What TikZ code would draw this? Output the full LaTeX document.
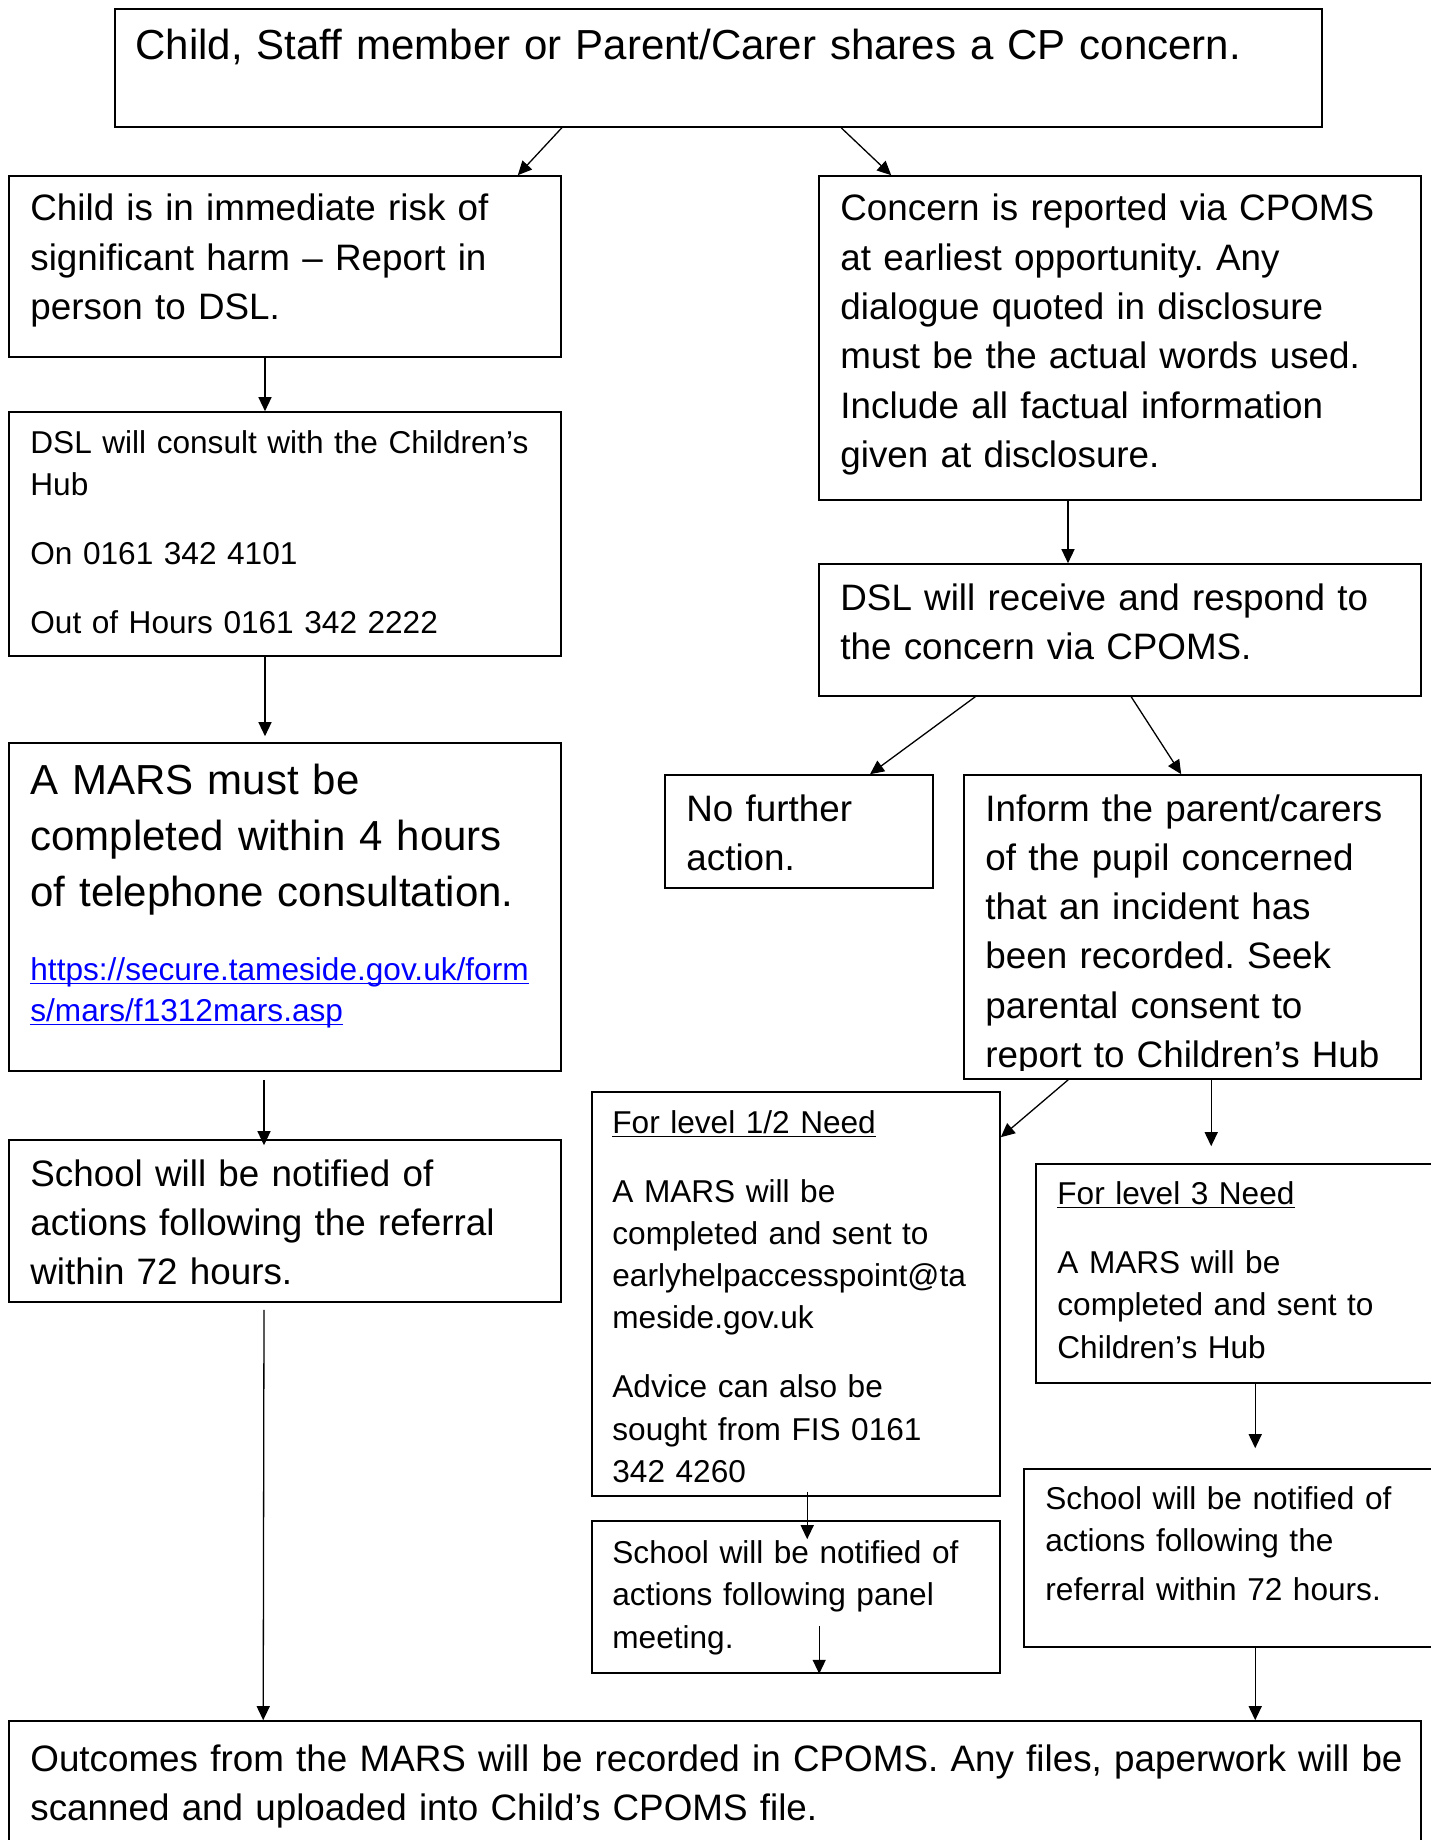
\documentclass[tikz,border=0pt]{standalone}
\usepackage{fontspec}
\setmainfont{Liberation Sans}
\usetikzlibrary{arrows.meta,calc}
\frenchspacing

\tikzset{
	box/.style={rectangle, draw, line width=0.8pt, inner sep=0pt},
	arr/.style={-{Triangle[length=7pt,width=6.5pt]}, line width=0.65pt},
	txt/.style={anchor=base west, align=left, inner sep=0pt, text width=700pt},
	bodytext/.style={txt, font=\fontsize{18.4pt}{24.65pt}\selectfont},
	smalltext/.style={txt, font=\fontsize{15.8pt}{21.15pt}\selectfont},
	bigtext/.style={txt, font=\fontsize{21pt}{28pt}\selectfont},
}
\newcommand{\linkline}[1]{\underline{\smash{#1}}}

\begin{document}
\begin{tikzpicture}[x=0.5pt, y=-0.5pt]
		
		\useasboundingbox (0,0) rectangle (1430,1840);
		
		%Boxes
		\node (top) at (718.5,68) [box, minimum width=603.5pt, minimum height=59pt]{};
		\node (boxA) at (285,266.5) [box, minimum width=276pt, minimum height=90.5pt]{};
		\node (boxB) at (1120,338) [box, minimum width=301pt, minimum height=162pt]{};
		\node (boxC) at (285,534) [box, minimum width=276pt, minimum height=122pt]{};
		\node (boxD) at (1120,630) [box, minimum width=301pt, minimum height=66pt]{};
		\node (boxE) at (285,907) [box, minimum width=276pt, minimum height=164pt]{};
		\node (boxF) at (799,831.5) [box, minimum width=134pt, minimum height=56.5pt]{};
		\node (boxG) at (1192.5,927) [box, minimum width=228.5pt, minimum height=152pt]{};
		\node (boxH) at (285,1221) [box, minimum width=276pt, minimum height=81pt]{};
		\node (boxI) at (796,1294) [box, minimum width=204pt, minimum height=202pt]{};
		\node (boxJ) at (1238,1273.5) [box, minimum width=202pt, minimum height=109.5pt]{};
		\node (boxK) at (796,1597) [box, minimum width=204pt, minimum height=76pt]{};
		\node (boxL) at (1232,1558) [box, minimum width=208pt, minimum height=89pt]{};
		\node (boxM) at (715,1785.5) [box, minimum width=706pt, minimum height=64.5pt]{};
		
		%Texts
		\node (txtTop) at (135,60) [bigtext]{Child, Staff member or Parent/Carer shares a CP concern.};
		\node (txtA) at (30,221) [bodytext]{Child is in immediate risk of\\ significant harm – Report in\\ person to DSL.};
		\node (txtB) at (840,221) [bodytext]{Concern is reported via CPOMS\\ at earliest opportunity. Any\\ dialogue quoted in disclosure\\ must be the actual words used.\\ Include all factual information\\ given at disclosure.};
		\node (txtC) at (30,453) [smalltext]{DSL will consult with the Children’s\\ Hub\\[13.35pt] On 0161 342 4101\\[13.35pt] Out of Hours 0161 342 2222};
		\node (txtD) at (840,610) [bodytext]{DSL will receive and respond to\\ the concern via CPOMS.};
		\node (txtE) at (30,794) [bigtext]{A MARS must be\\ completed within 4 hours\\ of telephone consultation.};
		\node (txtLink) at (30,980.5) [smalltext, blue, font=\fontsize{15.8pt}{20.5pt}\selectfont]{\linkline{https://secure.tameside.gov.uk/form}\\ \linkline{s/mars/f1312mars.asp}};
		\node (txtF) at (686,821) [bodytext]{No further\\ action.};
		\begin{scope}
			\clip (boxG.north west) rectangle ($(boxG.south east)+(0,-9)$);
			\node (txtG) at (985,821) [bodytext]{Inform the parent/carers\\ of the pupil concerned\\ that an incident has\\ been recorded. Seek\\ parental consent to\\ report to Children’s Hub};
		\end{scope}
		\node (txtH) at (30,1186) [bodytext]{School will be notified of\\ actions following the referral\\ within 72 hours.};
		\node (txtI) at (612,1133) [smalltext]{\underline{For level 1/2 Need}\\[13.35pt] A MARS will be\\ completed and sent to\\ earlyhelpaccesspoint@ta\\ meside.gov.uk\\[13.35pt] Advice can also be\\ sought from FIS 0161\\ 342 4260};
		\node (txtJ) at (1057,1204.5) [smalltext]{\underline{For level 3 Need}\\[13.35pt] A MARS will be\\ completed and sent to\\ Children’s Hub};
		\node (txtK) at (612,1563.5) [smalltext]{School will be notified of\\ actions following panel\\ meeting.};
		\node (txtL) at (1045,1509) [smalltext]{School will be notified of\\ actions following the\\[3.5pt] referral within 72 hours.};
		\node (txtM) at (30,1771) [bodytext]{Outcomes from the MARS will be recorded in CPOMS. Any files, paperwork will be\\ scanned and uploaded into Child’s CPOMS file.};
		
		%Arrows
		\draw[arr] (top.south -| boxA.east) -- ($(boxA.north east)+(-44,0)$);
		\draw[arr] ($(top.south west)+(727,0)$) -- ($(boxB.north west)+(73,0)$);
		\draw[arr] ($(boxA.south)+(-20,0)$) -- ($(boxC.north)+(-20,0)$);
		\draw[arr] ($(boxC.south)+(-20,0)$) -- ($(boxE.north)+(-20,-6)$);
		\draw[arr] ($(boxB.south)+(-52,0)$) -- ($(boxD.north)+(-52,0)$);
		\draw[arr] ($(boxD.south west)+(157,0)$) -- ($(boxF.north)+(71,0)$);
		\draw[arr] ($(boxD.south west)+(313,0)$) -- ($(boxG.north west)+(218,0)$);
		\draw[arr] ($(boxE.south)+(-21,8)$) -- ($(boxH.north)+(-21,6)$);
		\draw[arr] ($(boxG.south west)+(105,0)$) -- ($(boxI.north east)+(0,46)$);
		\draw[arr] ($(boxG.south west)+(248,0)$) -- ($(boxJ.north west)+(176,-17)$);
		\draw[arr] ($(boxJ.south west)+(220,0)$) -- ($(boxL.north west)+(232,-20)$);
		\draw[arr] ($(boxI.south west)+(216,-5)$) -- ($(boxK.north west)+(216,19)$);
		\draw[arr] ($(boxK.south west)+(228,-48)$) -- ($(boxK.south west)+(228,0)$);
		\draw[arr] ($(boxH.south)+(-21,7)$) -- ($(boxM.north west)+(255,0)$);
		\draw[arr] ($(boxL.south west)+(232,0)$) -- ($(boxM.north west)+(1247,0)$);
		
\end{tikzpicture}
\end{document}
